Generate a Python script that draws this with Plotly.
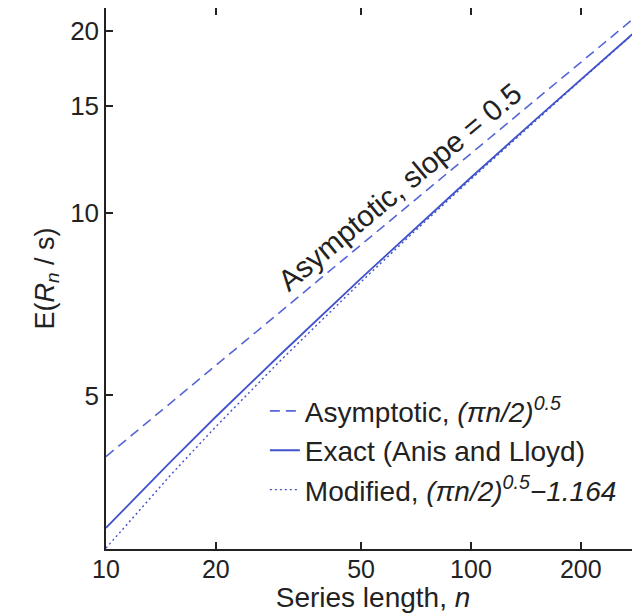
import plotly.graph_objects as go
import math

# Data (log-log axes)
series_length = [10, 15, 20, 30, 50, 70, 100, 150, 200, 300]
asymptotic = [3.963, 4.854, 5.605, 6.865, 8.862, 10.486, 12.533, 15.350, 17.725, 21.708]
exact_anis_lloyd = [3.023, 3.881, 4.611, 5.836, 7.803, 9.410, 11.443, 14.246, 16.613, 20.587]
modified = [2.799, 3.690, 4.441, 5.701, 7.698, 9.322, 11.369, 14.186, 16.561, 20.544]

x_ticks = [10, 20, 50, 100, 200]
y_ticks = [5, 10, 15, 20]

BLUE = "#4052cc"
FONT = "Liberation Sans, Arial, sans-serif"
TXT = "#222222"

fig = go.Figure()
fig.add_trace(go.Scatter(
    x=series_length, y=asymptotic, mode="lines",
    line=dict(color="#5566d6", width=1.6, dash="10px,6px"),
    name="Asymptotic, <i>(πn/2)</i><sup><i>0.5</i></sup>"))
fig.add_trace(go.Scatter(
    x=series_length, y=exact_anis_lloyd, mode="lines",
    line=dict(color=BLUE, width=1.8),
    name="Exact (Anis and Lloyd)"))
fig.add_trace(go.Scatter(
    x=series_length, y=modified, mode="lines",
    line=dict(color=BLUE, width=1.4, dash="2px,3px"),
    name="Modified, <i>(πn/2)</i><sup><i>0.5</i></sup><i>−1.164</i>"))

fig.add_annotation(
    x=math.log10(63.9), y=math.log10(11.04), xref="x", yref="y",
    text="Asymptotic, slope = 0.5", showarrow=False, textangle=-39.7,
    xanchor="center", yanchor="middle",
    font=dict(family=FONT, size=29.5, color=TXT))

fig.update_layout(
    width=632, height=605,
    margin=dict(l=98, r=0, t=0, b=64, autoexpand=False),
    paper_bgcolor="white", plot_bgcolor="white",
    font=dict(family=FONT, color=TXT),
    showlegend=True,
    legend=dict(x=0.2975, y=0.301, xanchor="left", yanchor="top",
                bgcolor="rgba(255,255,255,0)", borderwidth=0,
                font=dict(family=FONT, size=28, color=TXT),
                tracegroupgap=0),
    xaxis=dict(type="log", range=[1, math.log10(290.6)], automargin=False,
               tickvals=x_ticks, ticktext=[str(v) for v in x_ticks],
               ticks="inside", ticklen=7, tickwidth=1.5, tickcolor=TXT,
               ticklabelstandoff=-3,
               showline=True, linecolor=TXT, linewidth=1.5,
               mirror="ticks", showgrid=False, zeroline=False,
               tickfont=dict(family=FONT, size=25, color=TXT),
               title=dict(text="Series length, <i>n</i>", standoff=0,
                          font=dict(family=FONT, size=28, color=TXT))),
    yaxis=dict(type="log", range=[math.log10(2.79), math.log10(21.79)], automargin=False,
               tickvals=y_ticks, ticktext=[str(v) for v in y_ticks],
               ticks="inside", ticklen=7, tickwidth=1.5, tickcolor=TXT,
               showline=True, linecolor=TXT, linewidth=1.5,
               mirror=False, showgrid=False, zeroline=False,
               tickfont=dict(family=FONT, size=26, color=TXT),
               title=dict(text="E(<i>R</i><sub><i>n</i></sub> / s)", standoff=8,
                          font=dict(family=FONT, size=27, color=TXT))),
)

fig.write_html("out.html")
